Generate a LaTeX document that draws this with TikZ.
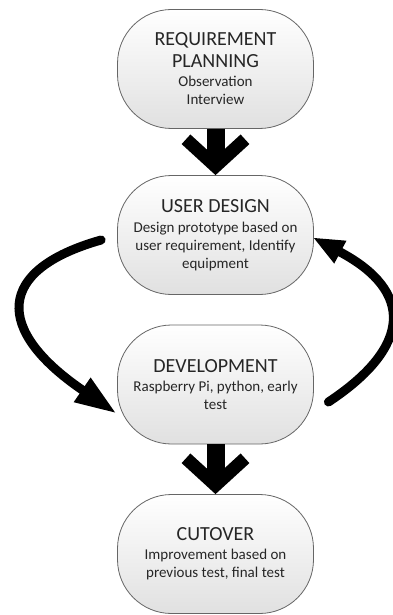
\documentclass[tikz,border=0pt]{standalone}
\usepackage{fontspec}
\setmainfont{Carlito}
\usetikzlibrary{arrows.meta}

\newcommand{\ttl}[1]{{\fontsize{20}{22}\selectfont #1}}

\begin{document}
\begin{tikzpicture}[x=1pt,y=-1pt,
        phase/.style={draw=black!60,line width=0.8pt,rounded corners=54pt,
            top color=white,bottom color=black!12,
            minimum width=196pt,minimum height=119pt,inner sep=0pt,
            align=center,text=black!85,font=\fontsize{15}{18}\selectfont},
        fatarrow/.style={line width=18pt,
            -{Straight Barb[line width=13pt,length=27pt,width=59pt]}},
        looparrow/.style={line width=9pt,line cap=round}]
    \useasboundingbox (0,0) rectangle (393,615);
    % the four phases
    \node[phase] (plan) at (215.5,69) {\ttl{REQUIREMENT}\\[4pt]\ttl{PLANNING}\\[1pt]Observation\\Interview};
    \node[phase] (design) at (215.5,235) {\ttl{USER DESIGN}\\[2pt]Design prototype based on\\user requirement, Identify\\equipment};
    \node[phase] (dev) at (215.5,384.5) {\ttl{DEVELOPMENT}\\[1pt]Raspberry Pi, python, early\\test};
    \node[phase] (cut) at (215.5,554) {\ttl{CUTOVER}\\[1pt]Improvement based on\\previous test, final test};
    % straight arrows
    \draw[fatarrow] (plan) -- (design);
    \draw[fatarrow] (dev) -- (cut);
    % the loop between design and development
    \coordinate (ltail) at ([xshift=-16pt,yshift=-5pt]design.west);
    \coordinate (lhead) at ([xshift=-2pt,yshift=-28pt]dev.west);
    \coordinate (rtail) at ([xshift=14.5pt,yshift=-17.5pt]dev.east);
    \coordinate (rhead) at ([yshift=-3pt]design.east);
    \draw[looparrow,-{Triangle[length=40pt,width=30pt,line width=0pt]}]
        (ltail) .. controls (-5,270) and (-5,330) .. (lhead);
    \draw[looparrow,-{Triangle[length=30pt,width=26pt,line width=0pt]}]
        (rtail) .. controls (413,346) and (413,291) .. (rhead);
\end{tikzpicture}
\end{document}
